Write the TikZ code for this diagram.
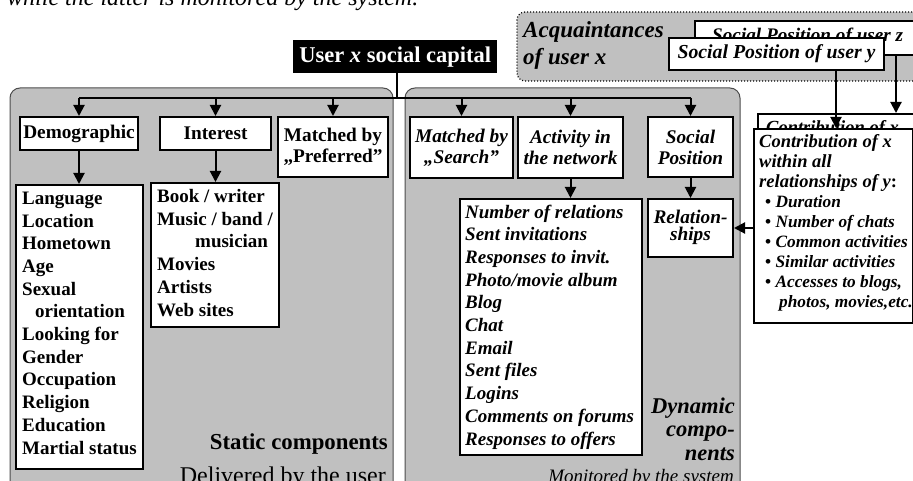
\documentclass[tikz,border=0pt]{standalone}
\usepackage{fontspec}
\setmainfont{Liberation Serif}
\usetikzlibrary{arrows.meta,fit}
\definecolor{pgray}{RGB}{192,192,192}
\begin{document}
\begin{tikzpicture}[x=1pt,y=-1pt,
 panel/.style={draw=black!70, line width=1pt, fill=pgray, rounded corners=10pt, inner sep=0pt},
 box/.style={draw=black, fill=white, line width=2pt, inner sep=0pt, anchor=north west},
 hd/.style={font=\fontsize{19.3}{21}\selectfont\bfseries, align=center},
 hdi/.style={font=\fontsize{19.3}{21}\selectfont\bfseries\itshape, align=center},
 lst/.style={anchor=base west, inner sep=0pt, align=left, font=\fontsize{19}{22.7}\selectfont\bfseries},
 lbl/.style={inner sep=0pt},
 arr/.style={line width=2pt, -{Triangle[length=11pt,width=11pt]}},
 ln/.style={line width=2pt},
]
\useasboundingbox (0,0) rectangle (913,481);
\clip (0,0) rectangle (913,481);

% caption line (cut at the top)
\node[lbl, anchor=base west, font=\fontsize{24}{28}\selectfont\itshape] (cap) at (7,6) {while the latter is monitored by the system.};

% panels
\node[panel, fit={(10,88)(393,495)}] (static) {};
\node[panel, fit={(405,88)(740,495)}] (dynamic) {};
\node[panel, draw=black, dotted, line width=1.2pt, rounded corners=8pt, fit={(517,12)(935,81)}] (acq) {};

% title
\node[anchor=north west, fill=black, text=white, inner sep=0pt, minimum width=204pt, minimum height=33pt, font=\fontsize{22.5}{26}\selectfont\bfseries] (title) at (293,40) {User \textit{x} social capital};

% static boxes
\node[box, hd, minimum width=118pt, minimum height=33pt] (demo) at (19,116) {Demographic};
\node[box, hd, minimum width=111pt, minimum height=33pt] (inter) at (159,116) {Interest};
\node[box, hd, minimum width=110pt, minimum height=60pt] (pref) at (277,116) {Matched by\\„Preferred”};
\node[box, minimum width=127pt, minimum height=284pt] (demol) at (15,184) {};
\node[box, minimum width=128pt, minimum height=144pt] (intl) at (150,182) {};
% anchors: baseline of the LAST line
\node[lst] (demot) at (22,454) {Language\\Location\\Hometown\\Age\\Sexual\\\hspace*{13pt}orientation\\Looking for\\Gender\\Occupation\\Religion\\Education\\Martial status};
\node[lst] (intt) at (157,316) {Book / writer\\Music / band /\\\hspace*{38pt}musician\\Movies\\Artists\\Web sites};

% dynamic boxes
\node[box, hdi, minimum width=103pt, minimum height=61pt] (search) at (409,116) {Matched by\\„Search”};
\node[box, hdi, minimum width=105pt, minimum height=61pt] (act) at (517,116) {Activity in\\the network};
\node[box, hdi, minimum width=85pt, minimum height=60pt] (soc) at (647,116) {Social\\Position};
\node[box, minimum width=182pt, minimum height=256pt] (actl) at (459,198) {};
\node[box, hdi, minimum width=85pt, minimum height=58pt, font=\fontsize{19.3}{23}\selectfont\bfseries\itshape] (rel) at (647,198) {\raisebox{5pt}{\shortstack{Relation-\\[1pt]ships}}};
\node[lst, font=\fontsize{19}{22.7}\selectfont\bfseries\itshape] (actt) at (465,445) {Number of relations\\Sent invitations\\Responses to invit.\\Photo/movie album\\Blog\\Chat\\Email\\Sent files\\Logins\\Comments on forums\\Responses to offers};

% panel labels
\node[lbl, anchor=base east, font=\fontsize{22.8}{26}\selectfont\bfseries] (stl) at (388,449) {Static components};
\node[lbl, anchor=base east, font=\fontsize{24}{26}\selectfont] (stl2) at (386,483) {Delivered by the user};
\node[lbl, anchor=base east, align=right, font=\fontsize{22.5}{23.5}\selectfont\bfseries\itshape] (dyl) at (735,460) {Dynamic\\compo-\\nents};
\node[lbl, anchor=base east, font=\fontsize{19}{24}\selectfont\itshape] (dyl2) at (734,482) {Monitored by the system};

% acquaintances
\node[lbl, anchor=base west, align=left, font=\fontsize{23}{27}\selectfont\bfseries\itshape] (acqt) at (523,65) {Acquaintances\\of user x};
\node[box, minimum width=240pt, minimum height=34pt] (zbox) at (694,20) {};
\node[lbl, anchor=base west, font=\fontsize{19.2}{22}\selectfont\bfseries\itshape] (zt) at (712,42) {Social Position of user z};
\node[box, minimum width=215pt, minimum height=32pt, font=\fontsize{19.8}{22}\selectfont\bfseries\itshape] (ybox) at (668,37) {Social Position of user y};

% contribution boxes
\node[box, minimum width=180pt, minimum height=195pt] (cb) at (757,113) {};
\node[lbl, anchor=base west, font=\fontsize{18.5}{20}\selectfont\bfseries\itshape] (cbt) at (766,134) {Contribution of x};
\node[box, minimum width=159pt, minimum height=194pt] (cf) at (753,128) {};
\node[lbl, anchor=base west, align=left, font=\fontsize{18.5}{20}\selectfont\bfseries\itshape] (cft) at (759,307) {Contribution of x\\within all\\relationships of y{\upshape :}\\
{\fontsize{17.3}{20}\selectfont\hspace*{6pt}{\upshape •} Duration}\\
{\fontsize{17.3}{20}\selectfont\hspace*{6pt}{\upshape •} Number of chats}\\
{\fontsize{17.3}{20}\selectfont\hspace*{6pt}{\upshape •} Common activities}\\
{\fontsize{17.3}{20}\selectfont\hspace*{6pt}{\upshape •} Similar activities}\\
{\fontsize{17.3}{20}\selectfont\hspace*{6pt}{\upshape •} Accesses to blogs,}\\
{\fontsize{17.3}{20}\selectfont\hspace*{20pt}photos, movies,etc.}};

% connectors
\coordinate (jn) at (397,98);
\coordinate (ya) at (836,0);
\coordinate (za) at (896,0);
\draw[ln] (title.south -| jn) -- (jn);
\draw[ln] (demo.north |- jn) -- (soc.north |- jn);
\foreach \n in {demo,inter,pref,search,act,soc}
  \draw[arr] (\n.north |- jn) -- (\n.north);
\draw[arr] (demo.south) -- (demo.south |- demol.north);
\draw[arr] (inter.south) -- (inter.south |- intl.north);
\draw[arr] (act.south) -- (act.south |- actl.north);
\draw[arr] (soc.south) -- (soc.south |- rel.north);
\draw[arr] (cf.west |- rel.east) -- (rel.east);
\draw[arr] (ybox.south -| ya) -- (cf.north -| ya);
\draw[arr] (zbox.south -| za) -- (cb.north -| za);
\end{tikzpicture}
\end{document}
